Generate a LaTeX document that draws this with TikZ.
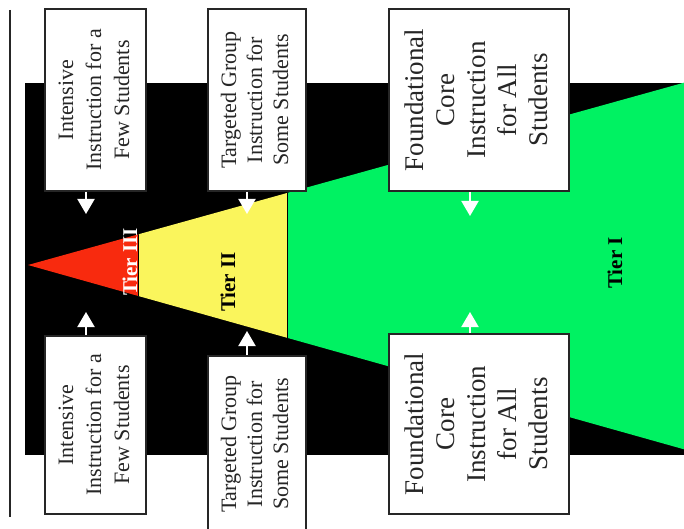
\documentclass[tikz,border=0pt]{standalone}
\usepackage{fontspec}
\setmainfont{Liberation Serif}
\usepackage{graphicx}
\usetikzlibrary{arrows.meta}

\definecolor{tierred}{RGB}{248,42,14}
\definecolor{tieryellow}{RGB}{250,245,92}
\definecolor{tiergreen}{RGB}{0,242,98}

\tikzstyle{textbox}=[rectangle,
line width=2pt,
draw=black!85,
fill=white,
text=black!85,
inner sep=0pt]
\tikzstyle{pointer}=[color=white,
line width=2pt,
-{Triangle[width=17pt,length=15pt,fill=white]}]
\tikzstyle{tier}=[rotate=90,
inner sep=0pt,
font=\fontsize{21}{21}\selectfont\bfseries]

% rotated, centred lines of text: size, skip, lines
\newcommand{\rotlines}[3]{\rotatebox{90}{\fontsize{#1}{#2}\selectfont
\begin{tabular}{@{}c@{}}#3\end{tabular}}}

\begin{document}
\begin{tikzpicture}[x=1pt,y=-1pt]
		\useasboundingbox (0,0) rectangle (684,529);
		
		% Black backdrop behind the tiers
		\fill[black] (25,83) rectangle (690,455);
		
		% The three tiers are cut out of one triangle
		\coordinate (apex) at (28,265);
		\coordinate (top_r) at (690,81);
		\coordinate (bot_r) at (690,451);
		\begin{scope}
		\clip (apex) -- (top_r) -- (bot_r) -- cycle;
		\fill[tierred] (25,0) rectangle (138,529);
		\fill[tieryellow] (138,0) rectangle (287,529);
		\fill[tiergreen] (287,0) rectangle (690,529);
		\draw[line width=1pt] (138,0) -- (138,529)
		(287,0) -- (287,529);
		\end{scope}
		
		% Tier labels
		\node (tier_3) [tier, text=white] at (130,262) {Tier III};
		\node (tier_2) [tier] at (228,282) {Tier II};
		\node (tier_1) [tier] at (615,263) {Tier I};
		
		% Upper row of boxes
		\node (few_t) [textbox, minimum width=101pt, minimum height=182pt]
		at (95.5,100) {\rotlines{22}{28}{Intensive\\Instruction for a\\Few Students}};
		\node (some_t) [textbox, minimum width=98pt, minimum height=182pt]
		at (257,100) {\rotlines{22}{26}{Targeted Group\\Instruction for\\Some Students}};
		\node (all_t) [textbox, minimum width=180pt, minimum height=182pt]
		at (479,100) {\rotlines{27}{31}{Foundational\\Core\\Instruction\\for All\\Students}};
		
		% Lower row of boxes
		\node (few_b) [textbox, minimum width=101pt, minimum height=178pt]
		at (95.5,425) {\rotlines{22}{28}{Intensive\\Instruction for a\\Few Students}};
		\node (some_b) [textbox, minimum width=98pt, minimum height=176pt]
		at (257,444) {\rotlines{22}{26}{Targeted Group\\Instruction for\\Some Students}};
		\node (all_b) [textbox, minimum width=180pt, minimum height=180pt]
		at (479,424) {\rotlines{27}{31}{Foundational\\Core\\Instruction\\for All\\Students}};
		
		% Arrow tips pointing into the tiers
		\coordinate (few_tt) at (86,214);
		\coordinate (some_tt) at (247,214);
		\coordinate (all_tt) at (470,216);
		\coordinate (few_bt) at (86,312);
		\coordinate (some_bt) at (247,331);
		\coordinate (all_bt) at (470,312);
		
		\path[pointer]
		(few_tt |- few_t.south) edge (few_tt)
		(some_tt |- some_t.south) edge (some_tt)
		(all_tt |- all_t.south) edge (all_tt)
		(few_bt |- few_b.north) edge (few_bt)
		(some_bt |- some_b.north) edge (some_bt)
		(all_bt |- all_b.north) edge (all_bt)
		;
		
		% Rule on the left
		\draw[line width=2pt, black!85] (10,10) -- (10,517);
\end{tikzpicture}
\end{document}
